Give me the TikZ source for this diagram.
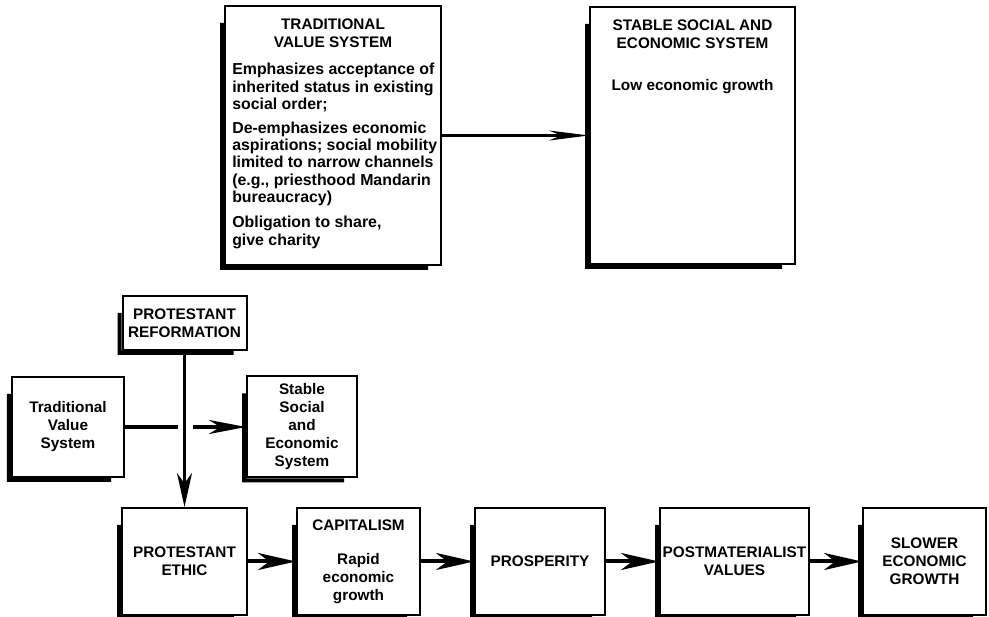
\documentclass[tikz,border=0pt]{standalone}
\usepackage{fontspec}
\setmainfont{Liberation Sans}
\usepackage{tikz}
\usetikzlibrary{arrows.meta, positioning}

\begin{document}
\begin{tikzpicture}[
    shadowed/.style={append after command={\pgfextra{
        \fill ([shift={(-0.1cm,-0.45cm)}]\tikzlastnode.north west)
          -- ([yshift=-0.45cm]\tikzlastnode.north west)
          -- (\tikzlastnode.south west)
          -- ([xshift=-0.35cm]\tikzlastnode.south east)
          -- ([shift={(-0.35cm,-0.1cm)}]\tikzlastnode.south east)
          -- ([shift={(-0.1cm,-0.1cm)}]\tikzlastnode.south west) -- cycle;}}},
    box/.style={rectangle, draw, line width=0.05cm, fill=white, inner sep=0, align=center, shadowed},
    flow/.style={box, minimum height=2.675cm},
    boxhead/.style={inner sep=0, align=center},
    boxbody/.style={inner sep=0, align=left, anchor=north west, font=\bfseries\fontsize{11.3}{12.4}\selectfont},
    arrow/.style={line width=0.1cm, -{Stealth[length=0.95cm, width=0.425cm, inset=0.28cm]}},
    midarrow/.style={line width=0.1cm, -{Stealth[length=0.925cm, width=0.35cm, inset=0.28cm]}},
    downarrow/.style={line width=0.075cm, -{Stealth[length=0.85cm, width=0.375cm, inset=0.26cm]}},
    thinarrow/.style={line width=0.06cm, -{Stealth[length=1cm, width=0.25cm, inset=0.3cm]}},
    every node/.append style={font=\bfseries\fontsize{10.9}{12.8}\selectfont}
]
    \useasboundingbox (0,0) rectangle (24.725,-15.425);

    \node[box, minimum width=5.4cm, minimum height=6.475cm] (trad) at (8.325,-3.3875) {};
    \node[box, right=3.675cm of trad, minimum width=5.125cm, minimum height=6.425cm] (stable) {};

    \node[boxhead, below=0.35cm of trad.north] (tradhead) {TRADITIONAL\\VALUE SYSTEM};
    \node[boxbody] (tradbody) at ([xshift=0.2cm, yshift=-1.45cm]trad.north west)
        {Emphasizes acceptance of\\inherited status in existing\\social order;\\[0.15cm]
         De-emphasizes economic\\aspirations; social mobility\\limited to narrow channels\\(e.g., priesthood Mandarin\\bureaucracy)\\[0.19cm]
         Obligation to share,\\give charity};
    \node[boxhead, below=0.35cm of stable.north] (stablehead)
        {STABLE SOCIAL AND\\ECONOMIC SYSTEM\\[0.6cm]Low economic growth};

    \draw[thinarrow] (trad) -- (stable);

    \node[flow, minimum width=3.125cm] (pe) at (4.6125,-14.0375) {PROTESTANT\\ETHIC};
    \node[flow, right=1.2cm of pe, minimum width=3.075cm] (cap) {CAPITALISM\\[0.4cm]Rapid\\economic\\growth};
    \node[flow, right=1.325cm of cap, minimum width=3.25cm] (pros) {PROSPERITY};
    \node[flow, right=1.325cm of pros, minimum width=3.725cm] (post) {POSTMATERIALIST\\VALUES};
    \node[flow, right=1.3cm of post, minimum width=3.075cm] (slow) {SLOWER\\ECONOMIC\\GROWTH};

    \node[box, above=3.9cm of pe, minimum width=3.1cm, minimum height=1.35cm] (pr) {PROTESTANT\\REFORMATION};
    \node[box, minimum width=2.8cm, minimum height=2.5cm] (tvsmall) at (1.7,-10.675) {Traditional\\Value\\System};
    \node[box, right=3.025cm of tvsmall, minimum width=2.75cm, minimum height=2.525cm] (stsmall)
        {Stable\\Social\\and\\Economic\\System};

    \coordinate (gapL) at ([xshift=-0.175cm]tvsmall.east -| pr.south);
    \coordinate (gapR) at ([xshift=0.2cm]tvsmall.east -| pr.south);

    \draw[line width=0.1cm] (tvsmall) -- (gapL);
    \draw[midarrow] (gapR) -- (stsmall);
    \draw[downarrow] (pr) -- (pe);

    \draw[arrow] (pe) -- (cap);
    \draw[arrow] (cap) -- (pros);
    \draw[arrow] (pros) -- (post);
    \draw[arrow] (post) -- (slow);

\end{tikzpicture}
\end{document}
